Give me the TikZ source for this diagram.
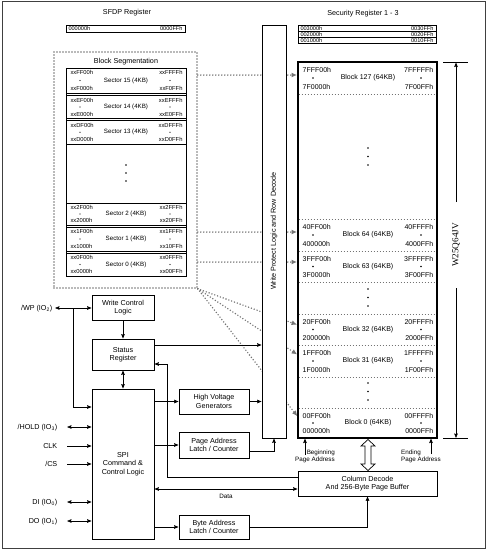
\documentclass[tikz,border=0pt]{standalone}
\usepackage{fontspec}
\setmainfont{Liberation Sans}
\newfontfamily\chipserif{Liberation Serif}
\usetikzlibrary{arrows.meta}
\newcommand\fntMain{\fontsize{7.2}{8.4}\selectfont}
\newcommand\fntArr{\fontsize{7}{8}\selectfont}
\newcommand\fntSec{\fontsize{5.8}{6.5}\selectfont}
\newcommand\fntSecL{\fontsize{6.2}{7}\selectfont}
\newcommand\fntReg{\fontsize{5.6}{6}\selectfont}
\newcommand\fntLab{\fontsize{6.3}{7.4}\selectfont}
\newcommand\arrayrow[8]{%
  \node[atxt,anchor=west] (#1a) at (302,{#2+8}) {#4};
  \node[atxt,anchor=west] (#1b) at (302,{#3-7}) {#5};
  \node[atxt] (#1c) at (368,{(#2+#3)/2}) {#6};
  \node[atxt,anchor=east] (#1d) at (434,{#2+8}) {#7};
  \node[atxt,anchor=east] (#1e) at (434,{#3-7}) {#8};
  \fill (313,{(#2+#3)/2}) circle (0.8);
  \fill (421,{(#2+#3)/2}) circle (0.8);
}
\newcommand\secrow[8]{%
  \draw[line width=0.7pt] (66,#2) rectangle (186,#3);
  \node[stxt,anchor=west] (#1a) at (70,{#2+4.8}) {#4};
  \node[stxt,anchor=west] (#1b) at (70,{#3-4.5}) {#5};
  \node[sltxt] (#1c) at (126,{(#2+#3)/2}) {#6};
  \node[stxt,anchor=east] (#1d) at (183,{#2+4.8}) {#7};
  \node[stxt,anchor=east] (#1e) at (183,{#3-4.5}) {#8};
  \fill (80,{(#2+#3)/2}) circle (0.7);
  \fill (170,{(#2+#3)/2}) circle (0.7);
}
\begin{document}
\begin{tikzpicture}[x=1pt,y=-1pt,
  box/.style={draw, line width=0.8pt, fill=white, inner sep=0pt, align=center, font=\fntMain},
  lbl/.style={font=\fntMain, inner sep=0.5pt, align=center},
  atxt/.style={font=\fntArr, inner sep=0.5pt},
  stxt/.style={font=\fntSec, inner sep=0.3pt},
  sltxt/.style={font=\fntSecL, inner sep=0.3pt},
  rtxt/.style={font=\fntReg, inner sep=0.3pt},
  wire/.style={line width=0.7pt},
  arr/.style={wire, -{Stealth[length=4.5pt,width=3.6pt,inset=0.6pt]}},
  darr/.style={wire, {Stealth[length=4.5pt,width=3.6pt,inset=0.6pt]}-{Stealth[length=4.5pt,width=3.6pt,inset=0.6pt]}},
  dotc/.style={draw=black!55, line width=1.6pt, dash pattern=on 0pt off 3pt, line cap=round, -{Latex[length=5.5pt,width=5pt]}, shorten >=1pt},
  dotbox/.style={draw=black!55, line width=1.6pt, dash pattern=on 0pt off 3pt, line cap=round},
  dashl/.style={draw=black!55, line width=0.5pt, dash pattern=on 1.6pt off 1.4pt},
]
\useasboundingbox (0,0) rectangle (488,552);
\draw[line width=0.8pt, black!75] (2,1.5) rectangle (485.5,548.5);

% titles
\node[lbl] (sfdpt) at (127,13) {SFDP Register};
\node[lbl] (sect) at (363,14) {Security Register 1 - 3};

% SFDP register
\node[draw, line width=0.8pt, minimum width=119pt, minimum height=7pt, inner sep=0pt] (sfdp) at (125.5,28.5) {};
\node[rtxt, anchor=west] (sfdpl) at (68,28.5) {000000h};
\node[rtxt, anchor=east] (sfdpr) at (183,28.5) {0000FFh};

% security registers
\node[draw, line width=0.8pt, minimum width=138pt, minimum height=6pt, inner sep=0pt] (sr3) at (367,28) {};
\node[draw, line width=0.8pt, minimum width=138pt, minimum height=6pt, inner sep=0pt] (sr2) at (367,34) {};
\node[draw, line width=0.8pt, minimum width=138pt, minimum height=6pt, inner sep=0pt] (sr1) at (367,40) {};
\node[rtxt, anchor=west] (sr3l) at (300,28) {003000h};
\node[rtxt, anchor=east] (sr3r) at (434,28) {0030FFh};
\node[rtxt, anchor=west] (sr2l) at (300,34) {002000h};
\node[rtxt, anchor=east] (sr2r) at (434,34) {0020FFh};
\node[rtxt, anchor=west] (sr1l) at (300,40) {001000h};
\node[rtxt, anchor=east] (sr1r) at (434,40) {0010FFh};

% block segmentation
\node[dotbox, minimum width=143pt, minimum height=236pt, inner sep=0pt] (seg) at (125.5,170) {};
\node[lbl] (segt) at (126,62) {Block Segmentation};
\node[draw, line width=0.8pt, minimum width=120pt, minimum height=208pt, inner sep=0pt] (secs) at (126,172) {};
\secrow{s15}{68}{93}{xxFF00h}{xxF000h}{Sector 15 (4KB)}{xxFFFFh}{xxF0FFh}
\secrow{s14}{95.5}{118.5}{xxEF00h}{xxE000h}{Sector 14 (4KB)}{xxEFFFh}{xxE0FFh}
\secrow{s13}{120.5}{144}{xxDF00h}{xxD000h}{Sector 13 (4KB)}{xxDFFFh}{xxD0FFh}
\secrow{s2}{203}{225}{xx2F00h}{xx2000h}{Sector 2 (4KB)}{xx2FFFh}{xx20FFh}
\secrow{s1}{227}{251}{xx1F00h}{xx1000h}{Sector 1 (4KB)}{xx1FFFh}{xx10FFh}
\secrow{s0}{253}{276}{xx0F00h}{xx0000h}{Sector 0 (4KB)}{xx0FFFh}{xx00FFh}
\foreach \yy in {165,173,181} \fill (126,\yy) circle (0.8);

\coordinate (marrw) at (298,250);

% dotted connectors (behind the write-protect column)
\draw[dotc] (seg.east |- 0,75) -- (marrw |- 0,75);
\draw[dotc] (seg.east |- 0,232) -- (marrw |- 0,232);
\draw[dotc] (seg.east |- 0,262) -- (marrw |- 0,262);
\draw[dotc] (seg.south east) -- (marrw |- 0,325);
\draw[dotc] (seg.south east) -- (marrw |- 0,355);
\draw[dotc] (seg.south east) -- (marrw |- 0,417);

% write protect column
\node[box, minimum width=24pt, minimum height=413pt] (wpl) at (274,231.5) {};
\node[lbl, rotate=90] (wplt) at (274,231) {Write Protect Logic and Row Decode};

% memory array
\node[draw, line width=1.1pt, minimum width=139pt, minimum height=376pt, inner sep=0pt] (marr) at (367.5,250) {};
\foreach \yy in {94,219,251,282,314,345,377,408} \draw[dashl] (298.6,\yy) -- (436.4,\yy);
\arrayrow{b127}{62}{94}{7FFF00h}{7F0000h}{Block 127 (64KB)}{7FFFFFh}{7F00FFh}
\arrayrow{b64}{219}{251}{40FF00h}{400000h}{Block 64 (64KB)}{40FFFFh}{4000FFh}
\arrayrow{b63}{251}{282}{3FFF00h}{3F0000h}{Block 63 (64KB)}{3FFFFFh}{3F00FFh}
\arrayrow{b32}{314}{345}{20FF00h}{200000h}{Block 32 (64KB)}{20FFFFh}{2000FFh}
\arrayrow{b31}{345}{377}{1FFF00h}{1F0000h}{Block 31 (64KB)}{1FFFFFh}{1F00FFh}
\arrayrow{b0}{408}{438}{00FF00h}{000000h}{Block 0 (64KB)}{00FFFFh}{0000FFh}
\foreach \yy in {148,156.5,165,289,297.5,306,383,391.5,400} \fill (368,\yy) circle (0.85);

% dimension
\draw[wire] (443,62) -- (468,62);
\draw[wire] (443,438.5) -- (468,438.5);
\node[font=\chipserif\fontsize{9.2}{10}\selectfont, rotate=90, inner sep=0pt] (chip) at (456,245) {W25Q64JV};
\coordinate (dimtg) at (456,202);
\coordinate (dimt) at (456,62.5);
\coordinate (dimbg) at (456,288);
\coordinate (dimb) at (456,438);
\draw[arr] (dimtg) -- (dimt);
\draw[arr] (dimbg) -- (dimb);

% logic boxes
\node[box, minimum width=62pt, minimum height=25pt] (wcl) at (123,307.5) {Write Control\\Logic};
\node[box, minimum width=62pt, minimum height=31pt] (sreg) at (123,354.5) {Status\\Register};
\node[box, minimum width=62pt, minimum height=150pt] (spi) at (123,464) {SPI\\Command \&\\Control Logic};
\node[box, minimum width=70pt, minimum height=25pt] (hvg) at (214,401.5) {High Voltage\\Generators};
\node[box, minimum width=70pt, minimum height=26pt] (pal) at (214,445) {Page Address\\Latch / Counter};
\node[box, minimum width=70pt, minimum height=24pt] (bal) at (214,527) {Byte Address\\Latch / Counter};
\node[box, minimum width=139pt, minimum height=25pt] (cdb) at (367.5,483.5) {Column Decode\\And 256-Byte Page Buffer};

% pins
\node[lbl, anchor=base east] (wp) at (53,310.6) {/WP (IO\textsubscript{2})};
\node[lbl, anchor=base east] (hold) at (58,429.6) {/HOLD (IO\textsubscript{3})};
\node[lbl, anchor=base east] (clk) at (58,448.6) {CLK};
\node[lbl, anchor=base east] (cs) at (58,466.6) {/CS};
\node[lbl, anchor=base east] (di) at (58,504.6) {DI (IO\textsubscript{0})};
\node[lbl, anchor=base east] (do) at (58,523.6) {DO (IO\textsubscript{1})};
\coordinate (wpa) at (55,308);
\coordinate (wpj) at (73,308);
\coordinate (holda) at (67,427);
\coordinate (clka) at (67,446);
\coordinate (csa) at (67,464);
\coordinate (dia) at (67,502);
\coordinate (doa) at (67,521);
\draw[darr] (wpa) -- (wcl.west |- wpa);
\draw[arr] (wpj) |- (spi.west |- 0,407);
\draw[darr] (holda) -- (spi.west |- holda);
\draw[arr] (clka) -- (spi.west |- clka);
\draw[arr] (csa) -- (spi.west |- csa);
\draw[darr] (dia) -- (spi.west |- dia);
\draw[darr] (doa) -- (spi.west |- doa);

% internal connectors
\draw[arr] (wcl) -- (sreg);
\draw[darr] (sreg) -- (spi);
\draw[arr] (sreg.east |- 0,345) -- (wpl.west |- 0,345);
\coordinate (fbk) at (167,364);
\draw[arr] (cdb.west |- 0,477) -| (fbk) -- (sreg.east |- fbk);
\draw[arr] (spi.east |- hvg) -- (hvg);
\draw[arr] (hvg) -- (wpl.west |- hvg);
\draw[arr] (spi.east |- pal) -- (pal);
\draw[arr] (pal.east |- 0,451) -| (wpl.south);
\draw[darr] (spi.east |- 0,489) -- (cdb.west |- 0,489);
\node[font=\fntLab, inner sep=0.5pt] (datal) at (226,496) {Data};
\draw[arr] (spi.east |- bal) -- (bal);
\draw[arr] (bal.east) -| (cdb.south);

% page address labels
\node[font=\fntLab, align=right, anchor=north east, inner sep=0pt] (begl) at (335,449.5) {Beginning\\Page Address};
\node[font=\fntLab, align=left, anchor=north west, inner sep=0pt] (endl) at (401,449.5) {Ending\\Page Address};
\coordinate (bega) at (305,455);
\coordinate (enda) at (431,454);
\draw[arr] (bega) -- (marr.south -| bega);
\draw[arr] (enda) -- (marr.south -| enda);

% hollow double arrow
\draw[line width=0.7pt, fill=white] (368,439.5) -- (375,446) -- (371,446) -- (371,464) -- (375,464) -- (368,470.5) -- (361,464) -- (365,464) -- (365,446) -- (361,446) -- cycle;
\end{tikzpicture}
\end{document}
